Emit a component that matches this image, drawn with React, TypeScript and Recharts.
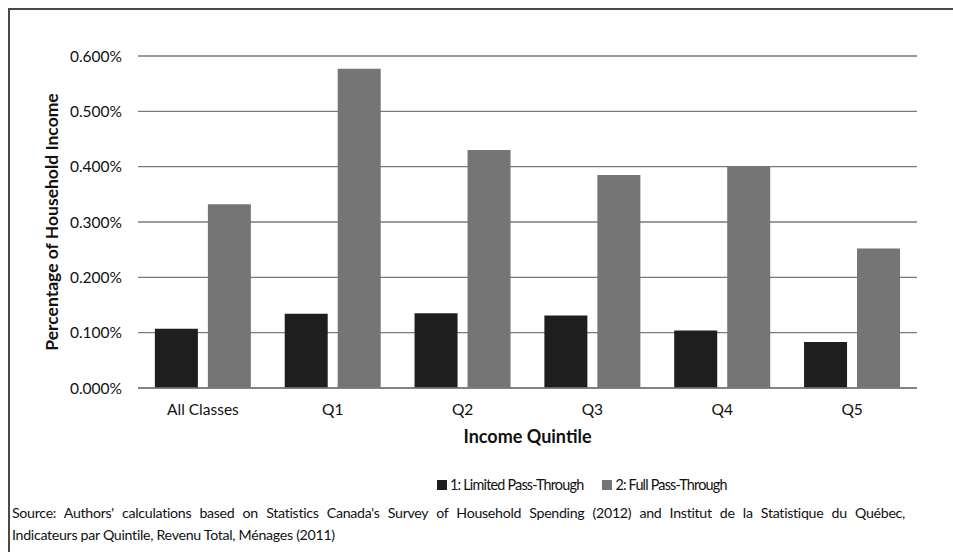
import { BarChart, Bar, XAxis, YAxis, CartesianGrid, Legend } from "recharts";

const quintiles = ["All Classes", "Q1", "Q2", "Q3", "Q4", "Q5"];
// share of household income, in percent
const limitedPassThrough = [0.107, 0.134, 0.135, 0.131, 0.104, 0.083];
const fullPassThrough = [0.332, 0.577, 0.430, 0.385, 0.400, 0.252];
const yTicks = [0, 0.1, 0.2, 0.3, 0.4, 0.5, 0.6];

const data = quintiles.map((q, i) => ({
  name: q,
  limited: limitedPassThrough[i],
  full: fullPassThrough[i],
}));

const FONT = "Lato, 'Open Sans', sans-serif";

const renderLegend = (props: any) => {
  const items = props.payload || [];
  return (
    <div
      style={{
        display: "flex",
        fontFamily: FONT,
        fontSize: 14.4,
        letterSpacing: -0.8,
        color: "#111",
        whiteSpace: "nowrap",
      }}
    >
      {items.map((entry: any) => (
        <div key={entry.value} style={{ display: "flex", alignItems: "center", marginRight: 19 }}>
          <span
            style={{
              display: "inline-block",
              width: 10,
              height: 10,
              background: entry.color,
              marginRight: 3,
            }}
          />
          <span>{entry.value}</span>
        </div>
      ))}
    </div>
  );
};

const App = () => {
  return (
    <div
      style={{
        position: "fixed",
        left: 0,
        top: 0,
        width: 953,
        height: 552,
        background: "#fff",
        fontFamily: FONT,
        overflow: "hidden",
      }}
    >
      <div
        style={{
          position: "absolute",
          left: 8,
          top: 8,
          right: 0,
          bottom: 0,
          borderTop: "2px solid #4a4a4a",
          borderLeft: "2px solid #4a4a4a",
        }}
      />
      <BarChart
        width={953}
        height={552}
        data={data}
        margin={{ top: 56, right: 36, left: 40, bottom: 109 }}
        barCategoryGap="13%"
        barGap={10}
        style={{ position: "absolute", left: 0, top: 0 }}
      >
        <CartesianGrid vertical={false} stroke="#7a7a7a" strokeWidth={1.4} />
        <XAxis
          dataKey="name"
          axisLine={{ stroke: "#7a7a7a", strokeWidth: 1.4 }}
          tickLine={false}
          tickMargin={10}
          height={55}
          tick={{ fill: "#111", fontSize: 15.5, fontFamily: FONT }}
          label={{
            value: "Income Quintile",
            position: "insideBottom",
            offset: 0,
            style: { fill: "#111", fontSize: 18, fontWeight: 700, fontFamily: FONT },
          }}
        />
        <YAxis
          width={98}
          domain={[0, 0.6]}
          ticks={yTicks}
          interval={0}
          axisLine={false}
          tickLine={false}
          tickMargin={10}
          tickFormatter={(v: number) => `${v.toFixed(3)}%`}
          tick={{ fill: "#111", fontSize: 15.5, fontFamily: FONT }}
          label={{
            value: "Percentage of Household Income",
            angle: -90,
            position: "insideLeft",
            offset: 12,
            style: {
              fill: "#111",
              fontSize: 17.5,
              fontWeight: 700,
              fontFamily: FONT,
              textAnchor: "middle",
            },
          }}
        />
        <Legend
          verticalAlign="bottom"
          align="left"
          content={renderLegend}
          wrapperStyle={{ left: 437, top: 476, width: "auto", height: 0 }}
        />
        <Bar
          dataKey="limited"
          name="1: Limited Pass-Through"
          fill="#1e1e1e"
          isAnimationActive={false}
        />
        <Bar
          dataKey="full"
          name="2: Full Pass-Through"
          fill="#757575"
          isAnimationActive={false}
        />
      </BarChart>
      {/* source note: first line stretched to the full width, second line left-aligned */}
      <div
        style={{
          position: "absolute",
          left: 12,
          top: 502,
          width: 893,
          fontSize: 14.2,
          letterSpacing: -0.3,
          lineHeight: "22px",
          color: "#111",
          fontFamily: FONT,
        }}
      >
        <div style={{ textAlign: "justify", textAlignLast: "justify", whiteSpace: "nowrap" }}>
          Source: Authors' calculations based on Statistics Canada's Survey of Household Spending
          (2012) and Institut de la Statistique du Québec,
        </div>
        <div>Indicateurs par Quintile, Revenu Total, Ménages (2011)</div>
      </div>
    </div>
  );
};

export default App;
